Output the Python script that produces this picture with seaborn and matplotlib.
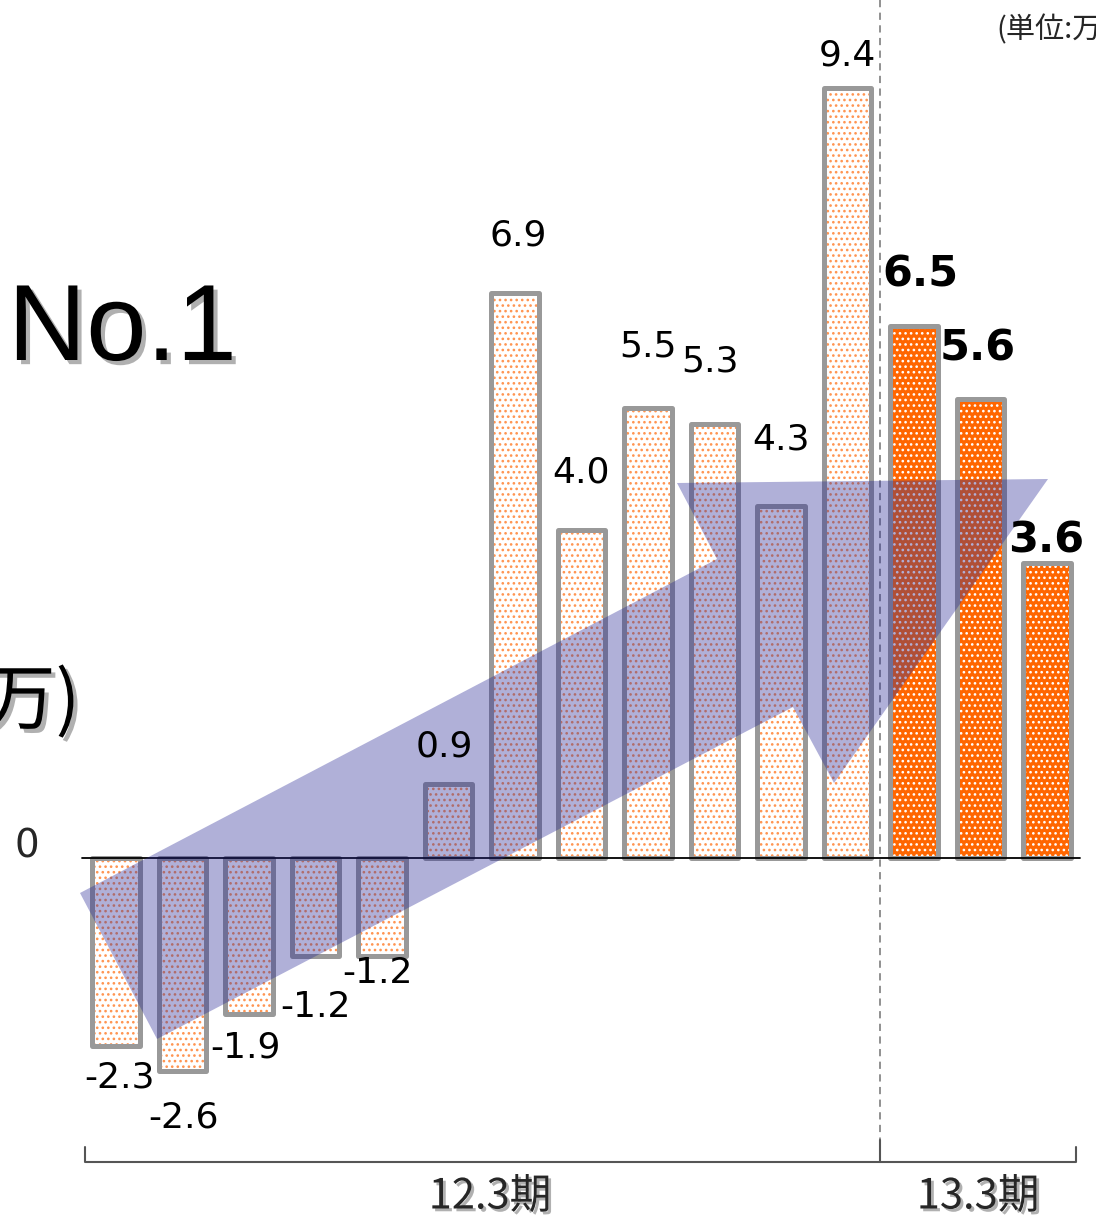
import numpy as np
import pandas as pd
import matplotlib
matplotlib.use("Agg")
import matplotlib.pyplot as plt
import seaborn as sns
from matplotlib.patches import Rectangle, Polygon
import matplotlib.patheffects as pe

# ---------------- data ----------------
months = [f"M{i}" for i in range(1, 16)]
values = [-2.3, -2.6, -1.9, -1.2, -1.2, 0.9, 6.9, 4.0, 5.5, 5.3, 4.3, 9.4, 6.5, 5.6, 3.6]
periods = ["12.3期"] * 12 + ["13.3期"] * 3
period_labels = ["12.3期", "13.3期"]
zero_label = "0"
unit_label = "(単位:万円)"
headline = "No.1"
side_label = "万)"

df = pd.DataFrame(dict(month=months, value=values, period=periods))

# ---------------- layout ----------------
W, H = 1096, 1220
X0, X1 = -116 / 66.5, (W - 116) / 66.5
Y1, Y0 = 858 / 81.9, -(H - 858) / 81.9


def px(x, y):
    return (X0 + x / W * (X1 - X0), Y1 - y / H * (Y1 - Y0))


sns.set_style("white")
plt.rcParams["font.family"] = ["DejaVu Sans", "Noto Sans CJK JP"]
plt.rcParams["hatch.linewidth"] = 1.1

fig = plt.figure(figsize=(W / 100, H / 100), dpi=100)
ax = fig.add_axes([0, 0, 1, 1])

sns.barplot(data=df, x="month", y="value", hue="period",
            palette={"12.3期": "white", "13.3期": "#FF6600"},
            width=0.71, dodge=False, legend=False, saturation=1, ax=ax)

ax.set_xlim(X0, X1)
ax.set_ylim(Y0, Y1)
ax.axis("off")

for p in list(ax.patches):
    i = int(round(p.get_x() + p.get_width() / 2))
    solid = periods[i] == "13.3期"
    p.set_hatch("...")
    p.set_edgecolor("white" if solid else "#FF9450")
    p.set_linewidth(0)
    p.set_zorder(2)
    ax.add_patch(Rectangle((p.get_x(), p.get_y()), p.get_width(), p.get_height(),
                           fill=False, edgecolor="#999999", lw=3.6,
                           joinstyle="round", zorder=3))

# zero line
ax.plot([px(82, 0)[0], px(1080, 0)[0]], [0, 0], color="black", lw=1.3, zorder=3.5)

# dashed divider
xd = px(880, 0)[0]
ax.plot([xd, xd], [Y1, px(0, 1140)[1]], color="#888888", lw=1.3,
        ls=(0, (4, 3)), zorder=1.5)

# bracket
yb = px(0, 1162)[1]
yt = px(0, 1147)[1]
xa, xm, xb = px(85, 0)[0], px(880, 0)[0], px(1076, 0)[0]
ax.plot([xa, xa, xb, xb], [yt, yb, yb, yt], color="#555555", lw=1.5, zorder=3)
ax.plot([xm, xm], [px(0, 1140)[1], yb], color="#555555", lw=1.5, zorder=3)

# arrow
arrow_px = [(80, 893), (717, 559), (677, 483), (1048, 479), (834, 783), (793, 707), (157, 1039)]
ax.add_patch(Polygon([px(*q) for q in arrow_px], closed=True,
                     facecolor="#292996", alpha=0.37, edgecolor="none", zorder=4))

# value labels
lab_dx = [3, 1, -4, 0, -4, -4, 3, 0, 0, -4, 0, 0, 6, -3, -1]
lab_dy = [31, 47, 34, 51, 17, -38, -57, -58, -61, -62, -66, -33, -51, -51, -23]
for i, v in enumerate(values):
    solid = periods[i] == "13.3期"
    ax.annotate(f"{v:.1f}", xy=(i, v), xytext=(lab_dx[i], -lab_dy[i]),
                textcoords="offset pixels", ha="center", va="center",
                fontsize=31 if solid else 26,
                fontweight="bold" if solid else "normal",
                color="black", zorder=5, family="DejaVu Sans")

shadow = [pe.withSimplePatchShadow(offset=(3, -3), shadow_rgbFace="#B0B0B0", alpha=1)]
shadow_s = [pe.withSimplePatchShadow(offset=(2, -2), shadow_rgbFace="#B0B0B0", alpha=1)]


def ftext(x, y, s, **kw):
    return fig.text(x / W, 1 - y / H, s, **kw)


ftext(27, 846, zero_label, ha="center", va="center", fontsize=28, family="DejaVu Sans")
ftext(8, 360, headline, ha="left", va="baseline", fontsize=78, color="black",
      family="Liberation Sans", path_effects=shadow)
ftext(80, 703, side_label, ha="right", va="center", fontsize=52, color="black",
      family="Noto Sans CJK JP", path_effects=shadow)
ftext(996, 30, unit_label, ha="left", va="center", fontsize=21,
      family="Noto Sans CJK JP")
ftext(490, 1197, period_labels[0], ha="center", va="center", fontsize=30,
      family="Noto Sans CJK JP", path_effects=shadow_s)
ftext(978, 1197, period_labels[1], ha="center", va="center", fontsize=30,
      family="Noto Sans CJK JP", path_effects=shadow_s)

fig.savefig("out.png", dpi=100)
